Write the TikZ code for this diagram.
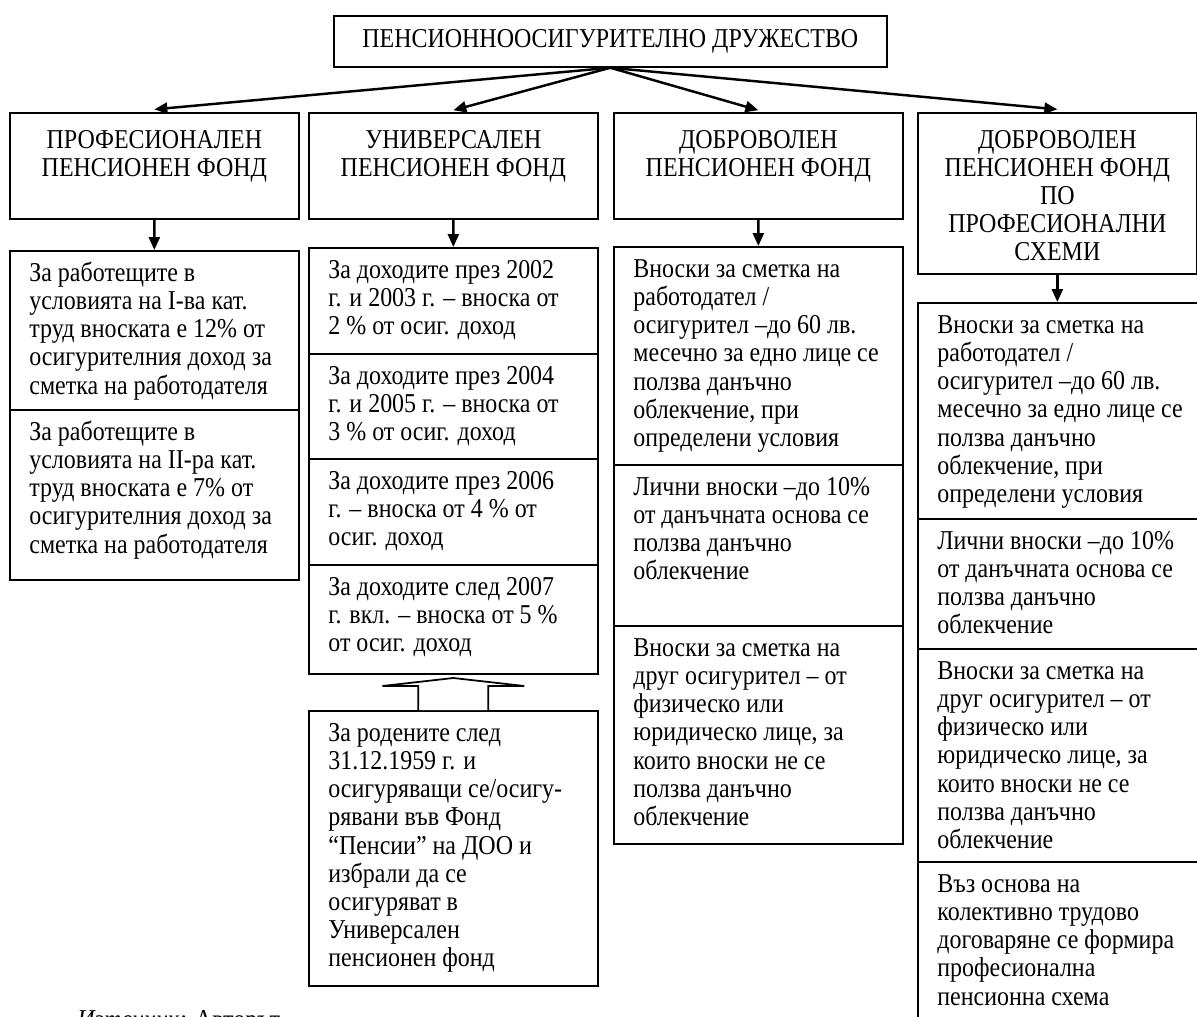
\documentclass[tikz,border=0pt]{standalone}
\usepackage{fontspec}
\setmainfont{Liberation Serif}[FakeStretch=0.88]
\usetikzlibrary{arrows.meta,calc}
\newlength\pxu
\setlength\pxu{0.02cm}
\newcommand{\celltext}[2]{\parbox[t][\dimexpr#1\pxu-0.44cm\relax][t]{5cm}{\raggedright\strut#2}}
\newcommand{\headtext}[2]{\parbox[t][\dimexpr#1\pxu-0.64cm\relax][t]{5.5cm}{\centering\strut#2}}
\tikzset{
  topbox/.style={draw,line width=1pt,anchor=north west,minimum width=11.06cm,minimum height=1.02cm,inner sep=0pt,font=\fontsize{15.5}{16}\selectfont},
  headbox/.style={draw,line width=1pt,anchor=north west,inner xsep=0.14cm,inner ysep=0.32cm,font=\fontsize{15.5}{16}\selectfont},
  cellbox/.style={draw,line width=1pt,anchor=north west,inner xsep=0.39cm,inner ysep=0.22cm,font=\fontsize{15.5}{16}\selectfont},
}
\begin{document}
\begin{tikzpicture}[x=0.02cm,y=-0.02cm,
    arr/.style={-{Triangle[length=0.26cm,width=0.22cm]},line width=1.4pt},
  ]
  \useasboundingbox (0,0) rectangle (1197,1017);

  \node[topbox] (pod) at (333,15) {ПЕНСИОННООСИГУРИТЕЛНО ДРУЖЕСТВО};

  % fund types
  \node[headbox] (hprof) at (9,112) {\headtext{106}{ПРОФЕСИОНАЛЕН\\ПЕНСИОНЕН ФОНД}};
  \node[headbox] (huniv) at (308,112) {\headtext{106}{УНИВЕРСАЛЕН\\ПЕНСИОНЕН ФОНД}};
  \node[headbox] (hdobr) at (613,112) {\headtext{106}{ДОБРОВОЛЕН\\ПЕНСИОНЕН ФОНД}};
  \node[headbox,inner xsep=0.04cm] (hdps) at (917,112) {\headtext{161}{ДОБРОВОЛЕН\\ПЕНСИОНЕН ФОНД\\ПО\\ПРОФЕСИОНАЛНИ\\СХЕМИ}};

  \draw[arr] (pod.south) -- ([yshift=1.5pt]hprof.north);
  \draw[arr] (pod.south) -- ([yshift=1pt]huniv.north);
  \draw[arr] (pod.south) -- ([yshift=1pt]hdobr.north);
  \draw[arr] (pod.south) -- ([yshift=1.5pt]hdps.north);

  % professional fund
  \node[cellbox] (pa) at (9,250) {\celltext{159}{За работещите в\\условията на I-ва кат.\\труд вноската е 12\% от\\осигурителния доход за\\сметка на работодателя}};
  \node[cellbox] (pb) at (9,409) {\celltext{170}{За работещите в\\условията на II-ра кат.\\труд вноската е 7\% от\\осигурителния доход за\\сметка на работодателя}};
  \draw[arr] (hprof.south) -- (pa.north);

  % universal fund
  \node[cellbox] (ua) at (308,247) {\celltext{106}{За доходите през 2002\\г. и 2003 г. – вноска от\\2 \% от осиг. доход}};
  \node[cellbox] (ub) at (308,353) {\celltext{105}{За доходите през 2004\\г. и 2005 г. – вноска от\\3 \% от осиг. доход}};
  \node[cellbox] (uc) at (308,458) {\celltext{106}{За доходите през 2006\\г. – вноска от 4 \% от\\осиг. доход}};
  \node[cellbox] (ud) at (308,564) {\celltext{109}{За доходите след 2007\\г. вкл. – вноска от 5 \%\\от осиг. доход}};
  \node[cellbox] (ue) at (308,710) {\celltext{275}{За родените след\\31.12.1959 г. и\\осигуряващи се/осигу-\\рявани във Фонд\\“Пенсии” на ДОО и\\избрали да се\\осигуряват в\\Универсален\\пенсионен фонд}};
  \draw[arr] (huniv.south) -- (ua.north);
  \draw[line width=1pt,fill=white] ($(ue.north)+(-35,0)$) -- ++(0,-24) -- ++(-36,0)
    -- ($(ue.north)+(0,-32)$) -- ($(ue.north)+(71,-24)$) -- ++(-36,0) -- ($(ue.north)+(35,0)$);

  % voluntary fund
  \node[cellbox] (da) at (613,246) {\celltext{218}{Вноски за сметка на\\работодател /\\осигурител –до 60 лв.\\месечно за едно лице се\\ползва данъчно\\облекчение, при\\определени условия}};
  \node[cellbox] (db) at (613,464) {\celltext{161}{Лични вноски –до 10\%\\от данъчната основа се\\ползва данъчно\\облекчение}};
  \node[cellbox] (dc) at (613,625) {\celltext{218}{Вноски за сметка на\\друг осигурител – от\\физическо или\\юридическо лице, за\\които вноски не се\\ползва данъчно\\облекчение}};
  \draw[arr] (hdobr.south) -- (da.north);

  % voluntary fund, occupational schemes
  \node[cellbox] (sa) at (917,302) {\celltext{216}{Вноски за сметка на\\работодател /\\осигурител –до 60 лв.\\месечно за едно лице се\\ползва данъчно\\облекчение, при\\определени условия}};
  \node[cellbox] (sb) at (917,518) {\celltext{130}{Лични вноски –до 10\%\\от данъчната основа се\\ползва данъчно\\облекчение}};
  \node[cellbox] (sc) at (917,648) {\celltext{213}{Вноски за сметка на\\друг осигурител – от\\физическо или\\юридическо лице, за\\които вноски не се\\ползва данъчно\\облекчение}};
  \node[cellbox] (sd) at (917,861) {\celltext{200}{Въз основа на\\колективно трудово\\договаряне се формира\\професионална\\пенсионна схема}};
  \draw[arr] (hdps.south) -- (hdps.south |- sa.north);

  \node[anchor=north west,inner sep=0pt,font=\fontsize{15.5}{16}\selectfont] (src) at (77,1010) {\textit{Източник:} Авторът};
\end{tikzpicture}
\end{document}
